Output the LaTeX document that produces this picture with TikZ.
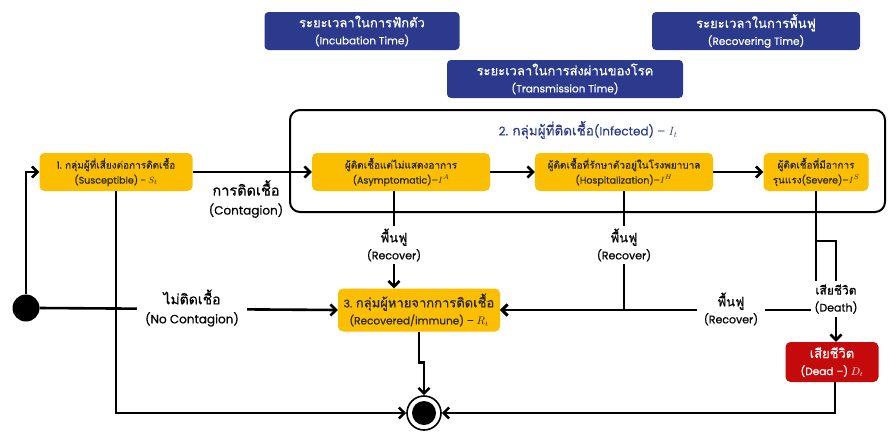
\documentclass[tikz,border=0pt]{standalone}
\usepackage{fontspec}
\setmainfont[FakeBold=0.5]{Poppins}
\newfontfamily\thaifont[Script=Thai,FakeBold=0.5]{Loma}
\newcommand\thx[1]{{\thaifont #1}}
\usetikzlibrary{arrows.meta,calc}
\definecolor{navy}{HTML}{2C3A8E}
\definecolor{ylw}{HTML}{FBBF00}
\definecolor{dred}{HTML}{C40A0A}
\begin{document}
\begin{tikzpicture}[x=1pt,y=-1pt,
  navybox/.style={fill=navy,rounded corners=4pt,text=white,align=center,minimum height=38pt,inner sep=0pt,font=\fontsize{10.5}{17}\selectfont},
  ybox/.style={fill=ylw,rounded corners=5pt,text=black!85,align=center,minimum height=38pt,inner sep=0pt,font=\fontsize{9.5}{15}\selectfont},
  rbox/.style={fill=dred,rounded corners=5pt,text=white,align=center,minimum height=40pt,minimum width=93pt,inner sep=0pt,font=\fontsize{10.5}{17}\selectfont},
  lbl/.style={fill=white,align=center,inner sep=3pt,font=\fontsize{11}{17}\selectfont},
  conn/.style={line width=2.6pt,draw=black},
  arr/.style={conn,-{Straight Barb[length=5.5pt,width=11pt,line width=2.6pt]}},
  frame/.style={line width=2pt,rounded corners=10pt}
]
\useasboundingbox (0,0) rectangle (895,437);
% top boxes
\node[navybox,minimum width=195pt] (incub) at (362,31) {\thx{\fontsize{13}{17}\selectfont ระยะเวลาในการฟักตัว}\\(Incubation Time)};
\node[navybox,minimum width=208pt] (recovT) at (756,31) {\thx{\fontsize{13}{17}\selectfont ระยะเวลาในการพื้นฟู}\\(Recovering Time)};
\node[navybox,minimum width=236pt] (trans) at (565,79) {\thx{\fontsize{13}{17}\selectfont ระยะเวลาในการส่งผ่านของโรค}\\(Transmission Time)};
% infected frame
\draw[frame] (290,110) rectangle (885,212);
\node[text=navy,font=\fontsize{12}{14}\selectfont] (ititle) at (588,130) {2. \thx{\fontsize{13.5}{14}\selectfont กลุ่มผู้ที่ติดเชื้อ}(Infected) – $I_t$};
% state boxes
\node[ybox,minimum width=153pt] (sus) at (116,172) {1. \thx{\fontsize{10}{15}\selectfont กลุ่มผู้ที่เสี่ยงต่อการติดเชื้อ}\\(Susceptible) - $S_t$};
\node[ybox,minimum width=178pt] (asym) at (401,172) {\thx{\fontsize{10}{15}\selectfont ผู้ติดเชื้อแต่ไม่แสดงอาการ}\\(Asymptomatic)–$I^A$};
\node[ybox,minimum width=178pt] (hosp) at (624,172) {\thx{\fontsize{10}{15}\selectfont ผู้ติดเชื้อที่รักษาตัวอยู่ในโรงพยาบาล}\\(Hospitalization)–$I^H$};
\node[ybox,minimum width=105pt] (sev) at (816,172) {\thx{\fontsize{10}{15}\selectfont ผู้ติดเชื้อที่มีอาการ}\\\thx{\fontsize{10}{15}\selectfont รุนแรง}(Severe)–$I^S$};
\node[ybox,minimum width=162pt,minimum height=43pt,font=\fontsize{10.5}{17}\selectfont] (rec) at (419,310) {3. \thx{\fontsize{13}{17}\selectfont กลุ่มผู้หายจากการติดเชื้อ}\\(Recovered/immune) – $R_t$};
\node[rbox] (dead) at (832,362) {\thx{\fontsize{13}{17}\selectfont เสียชีวิต}\\(Dead –) $D_t$};
% start and end
\node[circle,fill=black,minimum size=27pt,inner sep=0pt] (start) at (26,308) {};
\node[circle,draw=black,line width=1.6pt,fill=white,minimum size=34pt,inner sep=0pt] (end) at (424,413) {};
\node[circle,fill=black,minimum size=24pt,inner sep=0pt] (endin) at (424,413) {};
\coordinate (dj) at (817,241);
% connectors
\draw[arr] (start.north) |- (sus.west);
\draw[arr] (start.east) -- (rec.west);
\draw[arr] (sus.south) |- (end.west);
\draw[arr] (sus.east) -- (asym.west);
\draw[arr] (asym.east) -- (hosp.west);
\draw[arr] (hosp.east) -- (sev.west);
\draw[arr] ([xshift=-7pt]asym.south) -- ([xshift=-7pt]asym.south |- rec.north);
\draw[arr] (hosp.south) |- (rec.east);
\draw[arr] (sev.south) |- (rec.east);
\draw[arr] (dj) -| ([xshift=4pt]dead.north);
\draw[arr] (rec.south) -- ++(0,31) -| (end.north);
\draw[arr] ([xshift=3pt]dead.south) |- (end.east);
% labels
\node[font=\fontsize{12}{19}\selectfont,align=center] (lcont) at (246,199) {\thx{\fontsize{14.5}{19}\selectfont การติดเชื้อ}\\(Contagion)};
\node[lbl,font=\fontsize{12}{19}\selectfont,inner xsep=8pt] (lnocont) at (192,308) {\thx{\fontsize{14}{19}\selectfont ไม่ติดเชื้อ}\\(No Contagion)};
\node[lbl] (lrec1) at (394,245) {\thx{\fontsize{13}{17}\selectfont พื้นฟู}\\(Recover)};
\node[lbl] (lrec2) at (624,245) {\thx{\fontsize{13}{17}\selectfont พื้นฟู}\\(Recover)};
\node[lbl,inner xsep=7pt] (lrec3) at (731,309) {\thx{\fontsize{13}{17}\selectfont พื้นฟู}\\(Recover)};
\node[lbl] (ldeath) at (836,299) {\thx{\fontsize{12}{17}\selectfont เสียชีวิต}\\(Death)};
\end{tikzpicture}
\end{document}
